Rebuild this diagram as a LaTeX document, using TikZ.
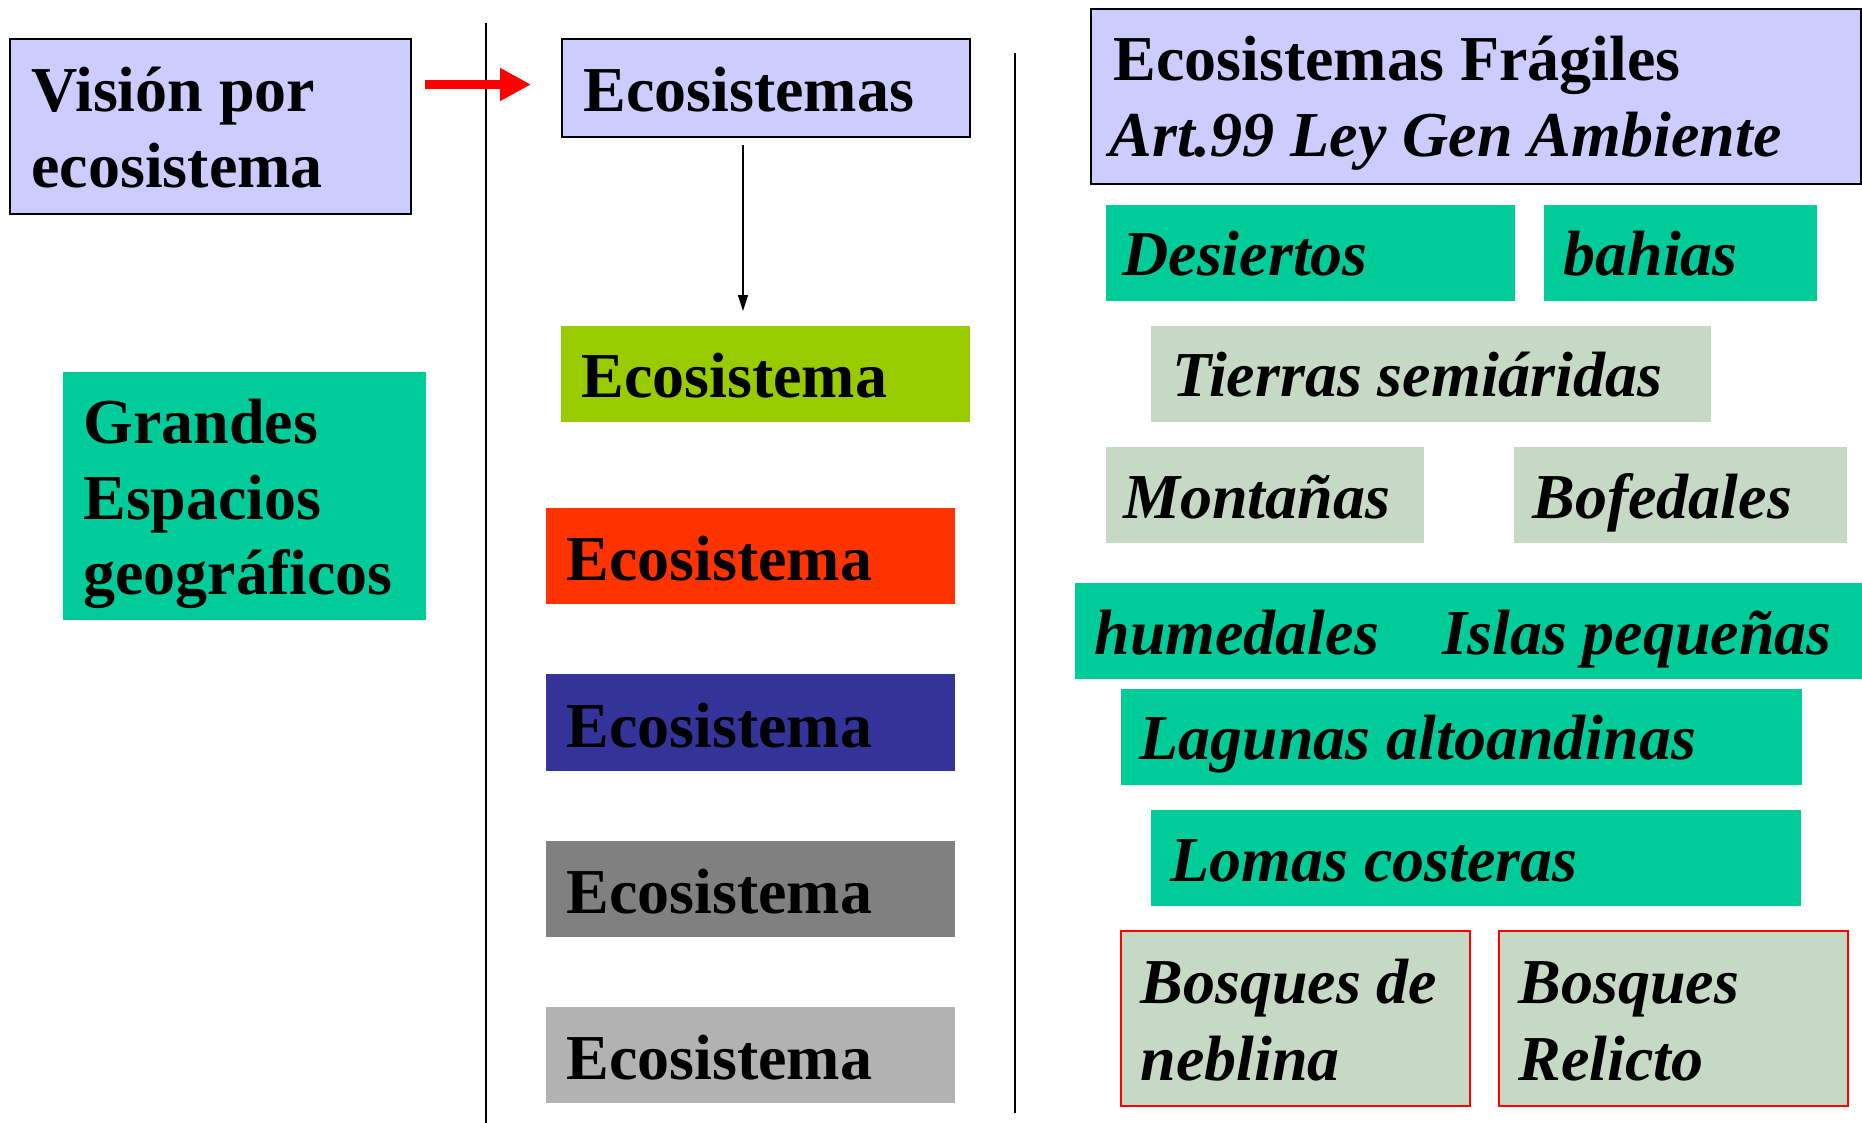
\documentclass[tikz,border=0pt]{standalone}
\usepackage{fontspec}
\setmainfont{Liberation Serif}
\usetikzlibrary{arrows.meta}
\definecolor{lav}{HTML}{CCCCFF}
\definecolor{tealbox}{HTML}{00CC99}
\definecolor{limebox}{HTML}{99CC00}
\definecolor{redbox}{HTML}{FF3300}
\definecolor{bluebox}{HTML}{333399}
\definecolor{graybox}{HTML}{808080}
\definecolor{lgraybox}{HTML}{B2B2B2}
\definecolor{sage}{HTML}{C5D9C5}
\newcommand\bx[6]{\node[#2, minimum width={(#5-#3)*0.5pt}, minimum height={(#6-#4)*0.5pt}] (#1) at (#3,#4) {};}
\newcommand\tx[5]{\node[#2] (#1) at (#3,#4) {#5};}
\begin{document}
\begin{tikzpicture}[x=0.5pt,y=-0.5pt,
 box/.style={rectangle, inner sep=0pt, outer sep=0pt, anchor=north west},
 frame/.style={box, draw=black, line width=1pt},
 redframe/.style={box, draw=red, line width=1pt},
 txt/.style={inner sep=0pt, anchor=base west, font=\fontsize{32pt}{38pt}\selectfont\bfseries},
 itxt/.style={inner sep=0pt, anchor=base west, font=\fontsize{32pt}{38pt}\selectfont\bfseries\itshape},
 vline/.style={draw=black, line width=1pt},
 redarrow/.style={draw=red, line width=4.5pt, -{Triangle[length=15.5pt,width=15.5pt]}},
 blackarrow/.style={draw=black, line width=0.7pt, -{Triangle[length=8pt,width=5pt]}},
]
\fill[white] (0,0) rectangle (1862,1123);
\useasboundingbox (0,0) rectangle (1862,1123);

% left column
\bx{vision}{frame, fill=lav}{10}{39}{411}{214}
\tx{vt1}{txt}{31}{112}{Visión por}
\tx{vt2}{txt}{31}{188}{ecosistema}
\bx{grandes}{box, fill=tealbox}{63}{372}{426}{620}
\tx{gt1}{txt}{83}{443}{Grandes}
\tx{gt2}{txt}{83}{519}{Espacios}
\tx{gt3}{txt}{83}{594}{geográficos}

% separators
\coordinate (l1t) at (486,23);
\coordinate (l1b) at (486,1123);
\coordinate (l2t) at (1015,53);
\coordinate (l2b) at (1015,1113);
\draw[vline] (l1t) -- (l1b);
\draw[vline] (l2t) -- (l2b);

% middle column
\bx{eco}{frame, fill=lav}{562}{39}{970}{137}
\tx{et}{txt}{583}{112}{Ecosistemas}
\bx{e1}{box, fill=limebox}{561}{326}{970}{422}
\tx{e1t}{txt}{581}{397}{Ecosistema}
\bx{e2}{box, fill=redbox}{546}{508}{955}{604}
\tx{e2t}{txt}{566}{580}{Ecosistema}
\bx{e3}{box, fill=bluebox}{546}{674}{955}{771}
\tx{e3t}{txt}{566}{747}{Ecosistema}
\bx{e4}{box, fill=graybox}{546}{841}{955}{937}
\tx{e4t}{txt}{566}{913}{Ecosistema}
\bx{e5}{box, fill=lgraybox}{546}{1007}{955}{1103}
\tx{e5t}{txt}{566}{1079}{Ecosistema}

% connectors
\coordinate (ay) at (0,84.5);
\draw[redarrow, shorten <=7pt, shorten >=15.5pt] (vision.east |- ay) -- (eco.west |- ay);
\coordinate (ax) at (743,0);
\draw[blackarrow, shorten <=4pt, shorten >=7.5pt] (eco.south -| ax) -- (e1.north -| ax);

% right column
\bx{frag}{frame, fill=lav}{1091}{9}{1861}{184}
\tx{ft1}{txt}{1113}{81}{Ecosistemas Frágiles}
\tx{ft2}{itxt}{1109}{157}{Art.99 Ley Gen Ambiente}
\bx{desiertos}{box, fill=tealbox}{1106}{205}{1515}{301}
\tx{dt}{itxt}{1122}{276}{Desiertos}
\bx{bahias}{box, fill=tealbox}{1544}{205}{1817}{301}
\tx{bt}{itxt}{1563}{276}{bahias}
\bx{tierras}{box, fill=sage}{1151}{326}{1711}{422}
\tx{tt}{itxt}{1172}{396}{Tierras semiáridas}
\bx{montanas}{box, fill=sage}{1106}{447}{1424}{543}
\tx{mt}{itxt}{1123}{518}{Montañas}
\bx{bofedales}{box, fill=sage}{1514}{447}{1847}{543}
\tx{bot}{itxt}{1532}{518}{Bofedales}
\bx{humedales}{box, fill=tealbox}{1075}{583}{1862}{679}
\tx{ht}{itxt}{1094}{654}{humedales}
\tx{it}{itxt}{1442}{654}{Islas pequeñas}
\bx{lagunas}{box, fill=tealbox}{1121}{689}{1802}{785}
\tx{lt}{itxt}{1139}{759}{Lagunas altoandinas}
\bx{lomas}{box, fill=tealbox}{1151}{810}{1801}{906}
\tx{lot}{itxt}{1170}{881}{Lomas costeras}
\bx{neblina}{redframe, fill=sage}{1121}{931}{1470}{1106}
\tx{nt1}{itxt}{1140}{1003}{Bosques de}
\tx{nt2}{itxt}{1140}{1080}{neblina}
\bx{relicto}{redframe, fill=sage}{1499}{931}{1848}{1106}
\tx{rt1}{itxt}{1518}{1003}{Bosques}
\tx{rt2}{itxt}{1518}{1080}{Relicto}
\end{tikzpicture}
\end{document}
